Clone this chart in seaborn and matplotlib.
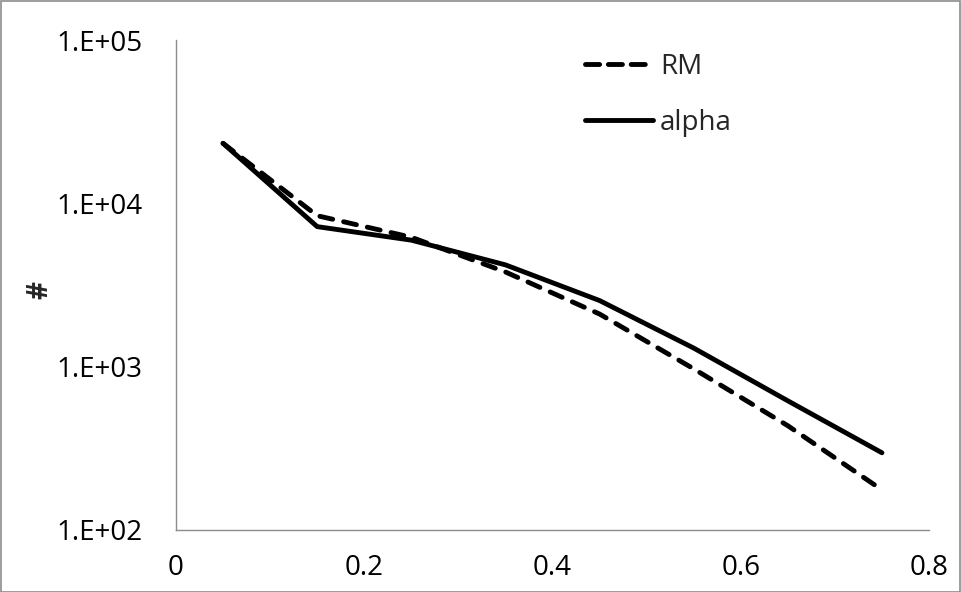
import matplotlib
matplotlib.use("Agg")
import matplotlib.pyplot as plt
from matplotlib.patches import Rectangle
from matplotlib.ticker import FixedLocator, FixedFormatter
import seaborn as sns
import pandas as pd

# Bin centres and counts per bin
x_vals = [0.05, 0.15, 0.25, 0.35, 0.45, 0.55, 0.65, 0.75]
rm_counts = [23300, 8400, 6200, 3800, 2100, 970, 435, 176]
alpha_counts = [23300, 7200, 5950, 4200, 2540, 1300, 618, 297]

x_ticks = [0, 0.2, 0.4, 0.6, 0.8]
x_tick_labels = ["0", "0.2", "0.4", "0.6", "0.8"]
y_ticks = [1e2, 1e3, 1e4, 1e5]
y_tick_labels = ["1.E+02", "1.E+03", "1.E+04", "1.E+05"]

sns.set_theme(style="white")
plt.rcParams["font.family"] = ["Open Sans", "DejaVu Sans"]

FS = 20
LW = 3.5
LINE_DASH = (2.7, 2.3)
LEGEND_DASH = (2.9, 1.8)

fig = plt.figure(figsize=(9.61, 5.92), dpi=100)
ax = fig.add_axes([176 / 961, 1 - 530 / 592, (929 - 176) / 961, (530 - 40) / 592])

df_rm = pd.DataFrame({"x": x_vals, "count": rm_counts})
df_alpha = pd.DataFrame({"x": x_vals, "count": alpha_counts})

sns.lineplot(data=df_rm, x="x", y="count", ax=ax, color="black", linewidth=LW,
             label="RM")
sns.lineplot(data=df_alpha, x="x", y="count", ax=ax, color="black", linewidth=LW,
             label="alpha")
line_rm, line_alpha = ax.get_lines()[:2]
line_rm.set_dashes(LINE_DASH)
line_rm.set_dash_capstyle("round")
line_rm.set_dash_joinstyle("round")
line_alpha.set_solid_capstyle("round")
line_alpha.set_solid_joinstyle("round")

ax.set_yscale("log")
ax.set_xlim(0, 0.8)
ax.set_ylim(1e2, 1e5)
ax.xaxis.set_major_locator(FixedLocator(x_ticks))
ax.xaxis.set_major_formatter(FixedFormatter(x_tick_labels))
ax.yaxis.set_major_locator(FixedLocator(y_ticks))
ax.yaxis.set_major_formatter(FixedFormatter(y_tick_labels))
ax.yaxis.set_minor_locator(FixedLocator([]))

for side in ("top", "right"):
    ax.spines[side].set_visible(False)
for side in ("left", "bottom"):
    ax.spines[side].set_color("#8c8c8c")
    ax.spines[side].set_linewidth(1.0)

ax.tick_params(axis="both", which="major", direction="out", length=6, width=1.0,
               color="#8c8c8c", labelsize=FS, labelcolor="black")
ax.tick_params(axis="y", pad=18)
ax.tick_params(axis="x", pad=11)
ax.tick_params(which="minor", length=0)

ax.set_xlabel("")
ax.set_ylabel("#", fontsize=FS, fontweight="bold")
ax.yaxis.set_label_coords(-0.161, 0.49)

leg = ax.legend(loc="upper left", bbox_to_anchor=(0.5215, 1.008), frameon=False,
                fontsize=FS, handlelength=2.42, handletextpad=0.27, labelspacing=1.02,
                borderaxespad=0.2)
for h in leg.get_lines():
    h.set_linewidth(LW)
    h.set_solid_capstyle("round")
leg.get_lines()[0].set_dashes(LEGEND_DASH)
leg.get_lines()[0].set_dash_capstyle("round")

# Thin grey frame around the whole chart
fig.patches.append(Rectangle((0.5 / 961, 0.5 / 592), 1 - 1.5 / 961, 1 - 1.5 / 592,
                             transform=fig.transFigure, fill=False,
                             edgecolor="#8c8c8c", linewidth=1.2))

fig.savefig("out.png", dpi=100)
